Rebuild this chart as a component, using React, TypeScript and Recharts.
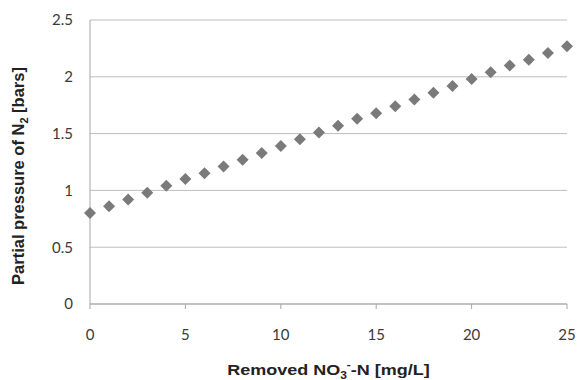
import { CartesianGrid, Scatter, ScatterChart, XAxis, YAxis } from "recharts";

const removedNO3 = [0, 1, 2, 3, 4, 5, 6, 7, 8, 9, 10, 11, 12, 13, 14, 15, 16, 17, 18, 19, 20, 21, 22, 23, 24, 25];
const partialPressureN2 = [
  0.8, 0.86, 0.92, 0.98, 1.04, 1.1, 1.15, 1.21, 1.27, 1.33, 1.39, 1.45, 1.51, 1.57, 1.63, 1.68, 1.74, 1.8,
  1.86, 1.92, 1.98, 2.04, 2.1, 2.15, 2.21, 2.27,
];
const xTicks = [0, 5, 10, 15, 20, 25];
const yTicks = [0, 0.5, 1, 1.5, 2, 2.5];

const data = removedNO3.map((x, i) => ({ x, y: partialPressureN2[i] }));

const tickStyle = { fill: "#3a3a3a", fontSize: 15, fontFamily: "Lato, 'Open Sans', sans-serif" };
const titleFont = "'Liberation Sans', Arial, sans-serif";

const Diamond = (props: any) => {
  const { cx, cy } = props;
  const r = 6;
  return (
    <path
      d={`M${cx},${cy - r} L${cx + r},${cy} L${cx},${cy + r} L${cx - r},${cy} Z`}
      fill="#7a7a7a"
    />
  );
};

export default function App() {
  return (
    <div style={{ position: "absolute", left: 0, top: 0, background: "#fff" }}>
      <ScatterChart width={578} height={380} margin={{ top: 20, right: 11, left: 0, bottom: 0 }}>
        <CartesianGrid horizontal vertical={false} stroke="#bdbdbd" />
        <XAxis
          type="number"
          dataKey="x"
          domain={[0, 25]}
          ticks={xTicks}
          height={76}
          stroke="#a6a6a6"
          tickSize={5}
          tickMargin={20}
          tick={tickStyle}
          label={{
            content: (p: any) => {
              const vb = p.viewBox;
              const cx = vb.x + vb.width / 2;
              return (
                <text
                  x={cx}
                  y={375}
                  transform={`translate(${cx},0) scale(1.2,1) translate(${-cx},0)`}
                  textAnchor="middle"
                  fontFamily={titleFont}
                  fontWeight="bold"
                  fontSize={15}
                  fill="#222"
                >
                  Removed NO
                  <tspan fontSize={10} dy={4}>3</tspan>
                  <tspan fontSize={10} dy={-11}>-</tspan>
                  <tspan dy={7}>-N [mg/L]</tspan>
                </text>
              );
            },
          }}
        />
        <YAxis
          type="number"
          dataKey="y"
          domain={[0, 2.5]}
          ticks={yTicks}
          width={90}
          stroke="#a6a6a6"
          tickLine={false}
          tickSize={0}
          tickMargin={17}
          tick={tickStyle}
          label={{
            content: (p: any) => {
              const vb = p.viewBox;
              const cy = vb.y + vb.height / 2 + 14;
              return (
                <text
                  x={24}
                  y={cy}
                  transform={`rotate(-90, 24, ${cy})`}
                  textAnchor="middle"
                  fontFamily={titleFont}
                  fontWeight="bold"
                  fontSize={16.5}
                  fill="#222"
                >
                  Partial pressure of N
                  <tspan fontSize={11} dy={4}>2</tspan>
                  <tspan dy={-4}> [bars]</tspan>
                </text>
              );
            },
          }}
        />
        <Scatter data={data} shape={<Diamond />} isAnimationActive={false} />
      </ScatterChart>
    </div>
  );
}
